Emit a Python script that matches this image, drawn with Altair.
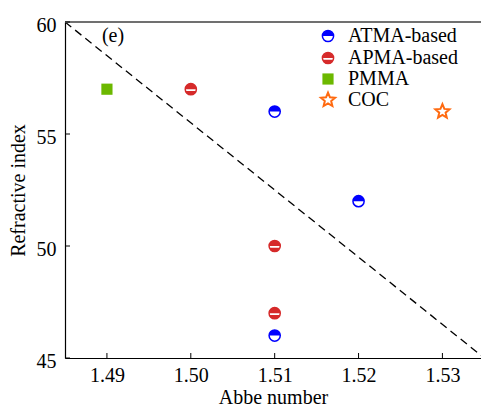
import math
import altair as alt
import pandas as pd

# ---- data ----
atma_x = [1.51, 1.52, 1.51]
atma_y = [56, 52, 46]
apma_x = [1.50, 1.51, 1.51]
apma_y = [57, 50, 47]
pmma_x = [1.49]
pmma_y = [57]
coc_x = [1.53]
coc_y = [56]
line_x = [1.485, 1.535]
line_y = [60, 45]
x_ticks = [1.49, 1.50, 1.51, 1.52, 1.53]
y_ticks = [45, 50, 55, 60]
legend_labels = ["ATMA-based", "APMA-based", "PMMA", "COC"]

BLUE = "#0000ff"
RED = "#d62a2a"
GREEN = "#6cb800"
ORANGE = "#ff6a10"
FONT = "Liberation Serif"

W, H = 416, 336
XDOM = [1.485, 1.5346]
YDOM = [45, 60]

xs = alt.Scale(domain=XDOM, nice=False, zero=False)
ys = alt.Scale(domain=YDOM, nice=False, zero=False)

TOP_HALF = "M -1 0 A 1 1 0 0 1 1 0 Z"
BOTTOM_SEG = "M -0.954 0.3 A 1 1 0 0 0 0.954 0.3 Z"
MSIZE = 125

def star_path(inner=0.45):
    parts = []
    for k in range(10):
        r = 1.0 if k % 2 == 0 else inner
        a = math.radians(-90 + 36 * k)
        parts.append(f"{r * math.cos(a):.3f} {r * math.sin(a):.3f}")
    return "M " + " L ".join(parts) + " Z"

STAR = star_path()

def pts(xv, yv):
    return pd.DataFrame({"x": xv, "y": yv})

def enc(ch, first=False):
    if first:
        return ch.encode(
            x=alt.X("x:Q", scale=xs, title="Abbe number",
                    axis=alt.Axis(values=x_ticks, format=".2f", ticks=False, grid=False,
                                  labelFont=FONT, labelFontSize=20, labelColor="black",
                                  labelPadding=7, domainColor="black", domainWidth=1.2,
                                  titleFont=FONT, titleFontSize=20, titleFontWeight="normal",
                                  titleColor="black", titlePadding=2)),
            y=alt.Y("y:Q", scale=ys, title="Refractive index",
                    axis=alt.Axis(values=y_ticks, ticks=False, grid=False,
                                  labelFont=FONT, labelFontSize=20, labelColor="black",
                                  labelPadding=9, labelOffset=3, domainColor="black", domainWidth=1.2,
                                  titleFont=FONT, titleFontSize=20, titleFontWeight="normal",
                                  titleColor="black", titlePadding=8)),
        )
    return ch.encode(x=alt.X("x:Q", scale=xs), y=alt.Y("y:Q", scale=ys))

layers = []
# dashed line
layers.append(enc(alt.Chart(pts(line_x, line_y)).mark_line(
    color="black", strokeDash=[8, 5], strokeWidth=1.3, clip=True), first=True))

# top border
layers.append(alt.Chart(pts([XDOM[0]], [60])).mark_rule(color="#707070", strokeWidth=2).encode(
    x=alt.value(0), x2=alt.value(W), y=alt.value(0)))

# inward ticks
layers.append(alt.Chart(pd.DataFrame({"x": x_ticks})).mark_rule(color="black", strokeWidth=1).encode(
    x=alt.X("x:Q", scale=xs), y=alt.value(H), y2=alt.value(H - 5)))
layers.append(alt.Chart(pd.DataFrame({"y": y_ticks})).mark_rule(color="black", strokeWidth=1).encode(
    y=alt.Y("y:Q", scale=ys), x=alt.value(0), x2=alt.value(5)))

# data markers
d_atma = pts(atma_x, atma_y)
layers.append(enc(alt.Chart(d_atma).mark_point(shape="circle", filled=True, fill="white",
                                                stroke=BLUE, strokeWidth=1.5, size=MSIZE, opacity=1)))
layers.append(enc(alt.Chart(d_atma).mark_point(shape=TOP_HALF, filled=True, fill=BLUE,
                                                strokeWidth=0, size=MSIZE, opacity=1)))
d_apma = pts(apma_x, apma_y)
layers.append(enc(alt.Chart(d_apma).mark_point(shape="circle", filled=True, fill="white",
                                                stroke=RED, strokeWidth=1.5, size=MSIZE, opacity=1)))
layers.append(enc(alt.Chart(d_apma).mark_point(shape=TOP_HALF, filled=True, fill=RED,
                                                strokeWidth=0, size=MSIZE, opacity=1)))
layers.append(enc(alt.Chart(d_apma).mark_point(shape=BOTTOM_SEG, filled=True, fill=RED,
                                                strokeWidth=0, size=MSIZE, opacity=1)))
layers.append(enc(alt.Chart(pts(pmma_x, pmma_y)).mark_point(shape="square", filled=True, fill=GREEN,
                                                             strokeWidth=0, size=125, opacity=1)))
layers.append(enc(alt.Chart(pts(coc_x, coc_y)).mark_point(shape=STAR, filled=True, fill="white",
                                                           stroke=ORANGE, strokeWidth=2, size=220, opacity=1)))

# "(e)" label
layers.append(alt.Chart(pd.DataFrame({"t": ["(e)"]})).mark_text(
    font=FONT, fontSize=20, color="black", align="center", baseline="middle").encode(
    text="t:N", x=alt.value(48), y=alt.value(14)))

# legend
LX, TX = 263, 283
LY = [14, 36, 57, 78]
def lg_point(i, **kw):
    return alt.Chart(pd.DataFrame({"t": [legend_labels[i]]})).mark_point(
        filled=True, opacity=1, **kw).encode(x=alt.value(LX), y=alt.value(LY[i]))

layers.append(lg_point(0, shape="circle", fill="white", stroke=BLUE, strokeWidth=1.5, size=MSIZE))
layers.append(lg_point(0, shape=TOP_HALF, fill=BLUE, strokeWidth=0, size=MSIZE))
layers.append(lg_point(1, shape="circle", fill="white", stroke=RED, strokeWidth=1.5, size=MSIZE))
layers.append(lg_point(1, shape=TOP_HALF, fill=RED, strokeWidth=0, size=MSIZE))
layers.append(lg_point(1, shape=BOTTOM_SEG, fill=RED, strokeWidth=0, size=MSIZE))
layers.append(lg_point(2, shape="square", fill=GREEN, strokeWidth=0, size=125))
layers.append(lg_point(3, shape=STAR, fill="white", stroke=ORANGE, strokeWidth=2, size=220))
for i, lab in enumerate(legend_labels):
    layers.append(alt.Chart(pd.DataFrame({"t": [lab]})).mark_text(
        font=FONT, fontSize=20, color="black", align="left", baseline="middle").encode(
        text="t:N", x=alt.value(TX), y=alt.value(LY[i])))

chart = alt.layer(*layers).properties(
    width=W, height=H,
    autosize=alt.AutoSizeParams(type="none"),
    padding={"left": 65, "top": 22, "right": 0, "bottom": 48},
    background="white",
).configure_view(stroke=None)

chart.save("out.html", embed_options={"renderer": "svg", "actions": False})
